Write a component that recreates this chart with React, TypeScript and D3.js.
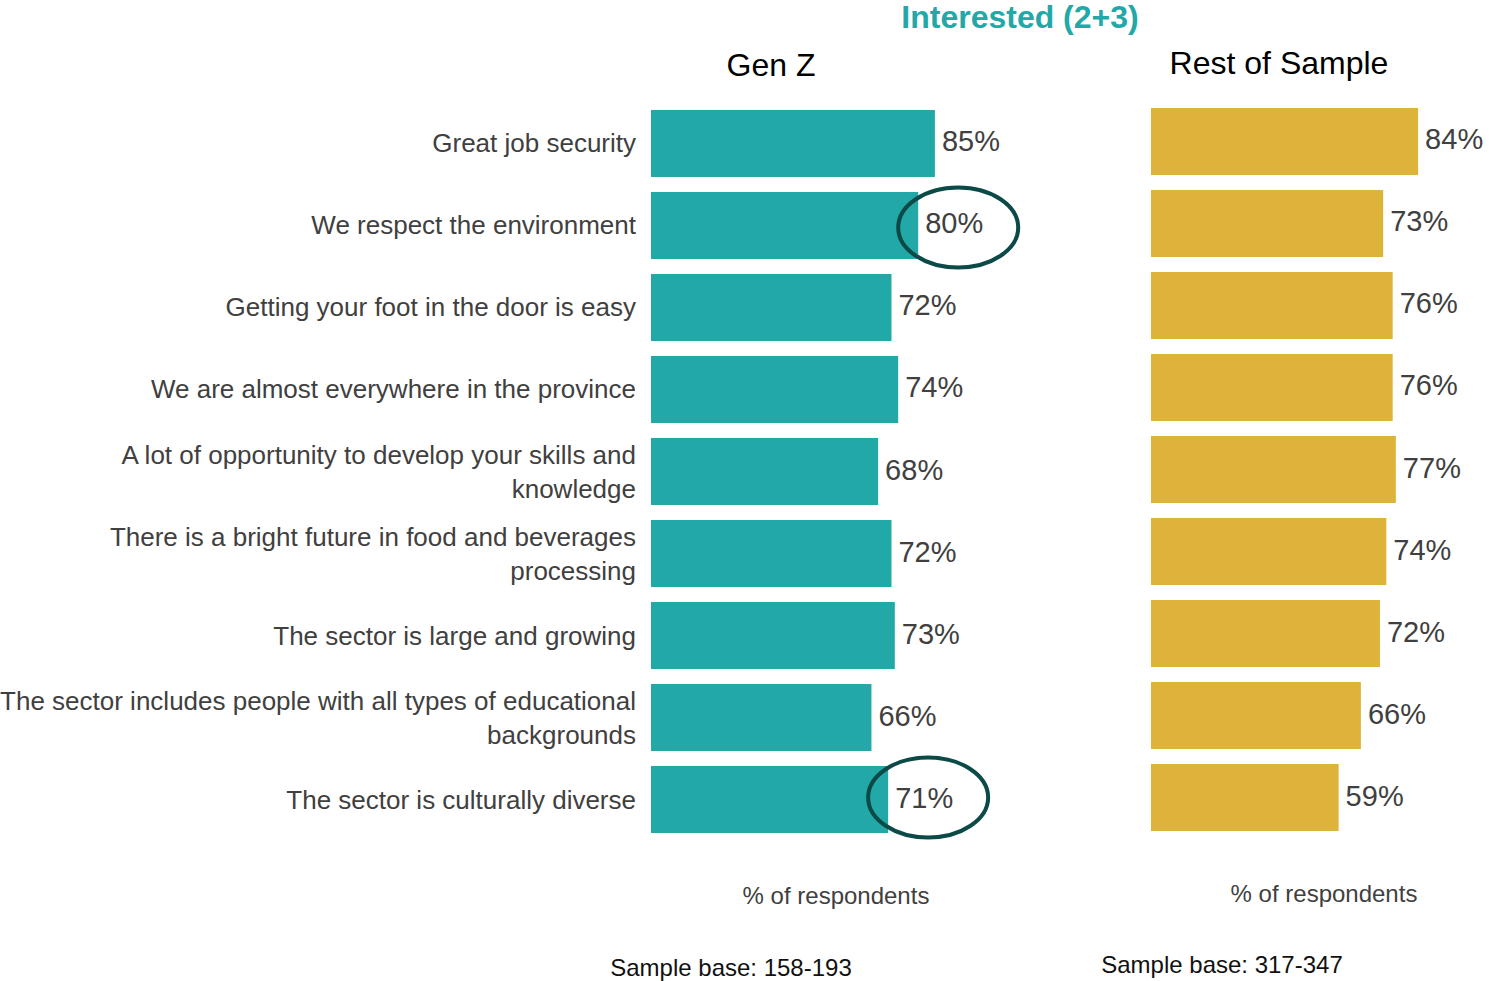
import React from "react";
import * as d3 from "d3";

const categories: string[][] = [
  ["Great job security"],
  ["We respect the environment"],
  ["Getting your foot in the door is easy"],
  ["We are almost everywhere in the province"],
  ["A lot of opportunity to develop your skills and", "knowledge"],
  ["There is a bright future in food and beverages", "processing"],
  ["The sector is large and growing"],
  ["The sector includes people with all types of educational", "backgrounds"],
  ["The sector is culturally diverse"],
];
const genZValues = [85, 80, 72, 74, 68, 72, 73, 66, 71];
const restValues = [84, 73, 76, 76, 77, 74, 72, 66, 59];
const highlighted = [1, 8];

const TEAL = "#22A9A7";
const GOLD = "#DEB33A";
const FONT = "'Liberation Sans', Arial, sans-serif";

export default function App() {
  const idx = categories.map((_, i) => String(i));
  const yG = d3.scaleBand().domain(idx).range([110, 833]).paddingInner(0.183).paddingOuter(0);
  const yR = d3.scaleBand().domain(idx).range([108, 831]).paddingInner(0.183).paddingOuter(0);
  const xG = d3.scaleLinear().domain([0, 100]).range([651, 985]);
  const xR = d3.scaleLinear().domain([0, 100]).range([1151, 1469]);

  return (
    <svg
      width={1489}
      height={981}
      style={{ position: "absolute", left: 0, top: 0, background: "#fff" }}
      fontFamily={FONT}
    >
      <text x={1020} y={28} textAnchor="middle" fontSize={32} fontWeight="bold" fill={TEAL}>
        Interested (2+3)
      </text>
      <text x={771} y={76} textAnchor="middle" fontSize={32} fill="#000">Gen Z</text>
      <text x={1279} y={74} textAnchor="middle" fontSize={32} fill="#000">Rest of Sample</text>

      {categories.map((lines, i) => {
        const cy = (yG(String(i)) as number) + yG.bandwidth() / 2;
        return (
          <text key={"c" + i} x={636} y={cy} textAnchor="end" fontSize={26} fill="#404040" dominantBaseline="central">
            {lines.map((l, j) => (
              <tspan key={j} x={636} dy={j === 0 ? (lines.length === 1 ? 0 : -17) : 34}>{l}</tspan>
            ))}
          </text>
        );
      })}

      {genZValues.map((v, i) => {
        const y = yG(String(i)) as number;
        return (
          <g key={"g" + i}>
            <rect x={xG(0)} y={y} width={xG(v) - xG(0)} height={yG.bandwidth()} fill={TEAL} />
            <text x={xG(v) + 7} y={y + yG.bandwidth() / 2 - 2} fontSize={29} fill="#404040" dominantBaseline="central">
              {v}%
            </text>
          </g>
        );
      })}

      {restValues.map((v, i) => {
        const y = yR(String(i)) as number;
        return (
          <g key={"r" + i}>
            <rect x={xR(0)} y={y} width={xR(v) - xR(0)} height={yR.bandwidth()} fill={GOLD} />
            <text x={xR(v) + 7} y={y + yR.bandwidth() / 2 - 2} fontSize={29} fill="#404040" dominantBaseline="central">
              {v}%
            </text>
          </g>
        );
      })}

      {highlighted.map((i) => {
        const v = genZValues[i];
        const cy = (yG(String(i)) as number) + yG.bandwidth() / 2;
        return (
          <ellipse key={"e" + i} cx={xG(v) + 40} cy={cy + (i === 1 ? 2 : -2)} rx={60} ry={40}
            fill="none" stroke="#0B4A47" strokeWidth={4} />
        );
      })}

      <text x={836} y={904} textAnchor="middle" fontSize={24} fill="#404040">% of respondents</text>
      <text x={1324} y={902} textAnchor="middle" fontSize={24} fill="#404040">% of respondents</text>
      <text x={731} y={976} textAnchor="middle" fontSize={24} fill="#111">Sample base: 158-193</text>
      <text x={1222} y={973} textAnchor="middle" fontSize={24} fill="#111">Sample base: 317-347</text>
    </svg>
  );
}
